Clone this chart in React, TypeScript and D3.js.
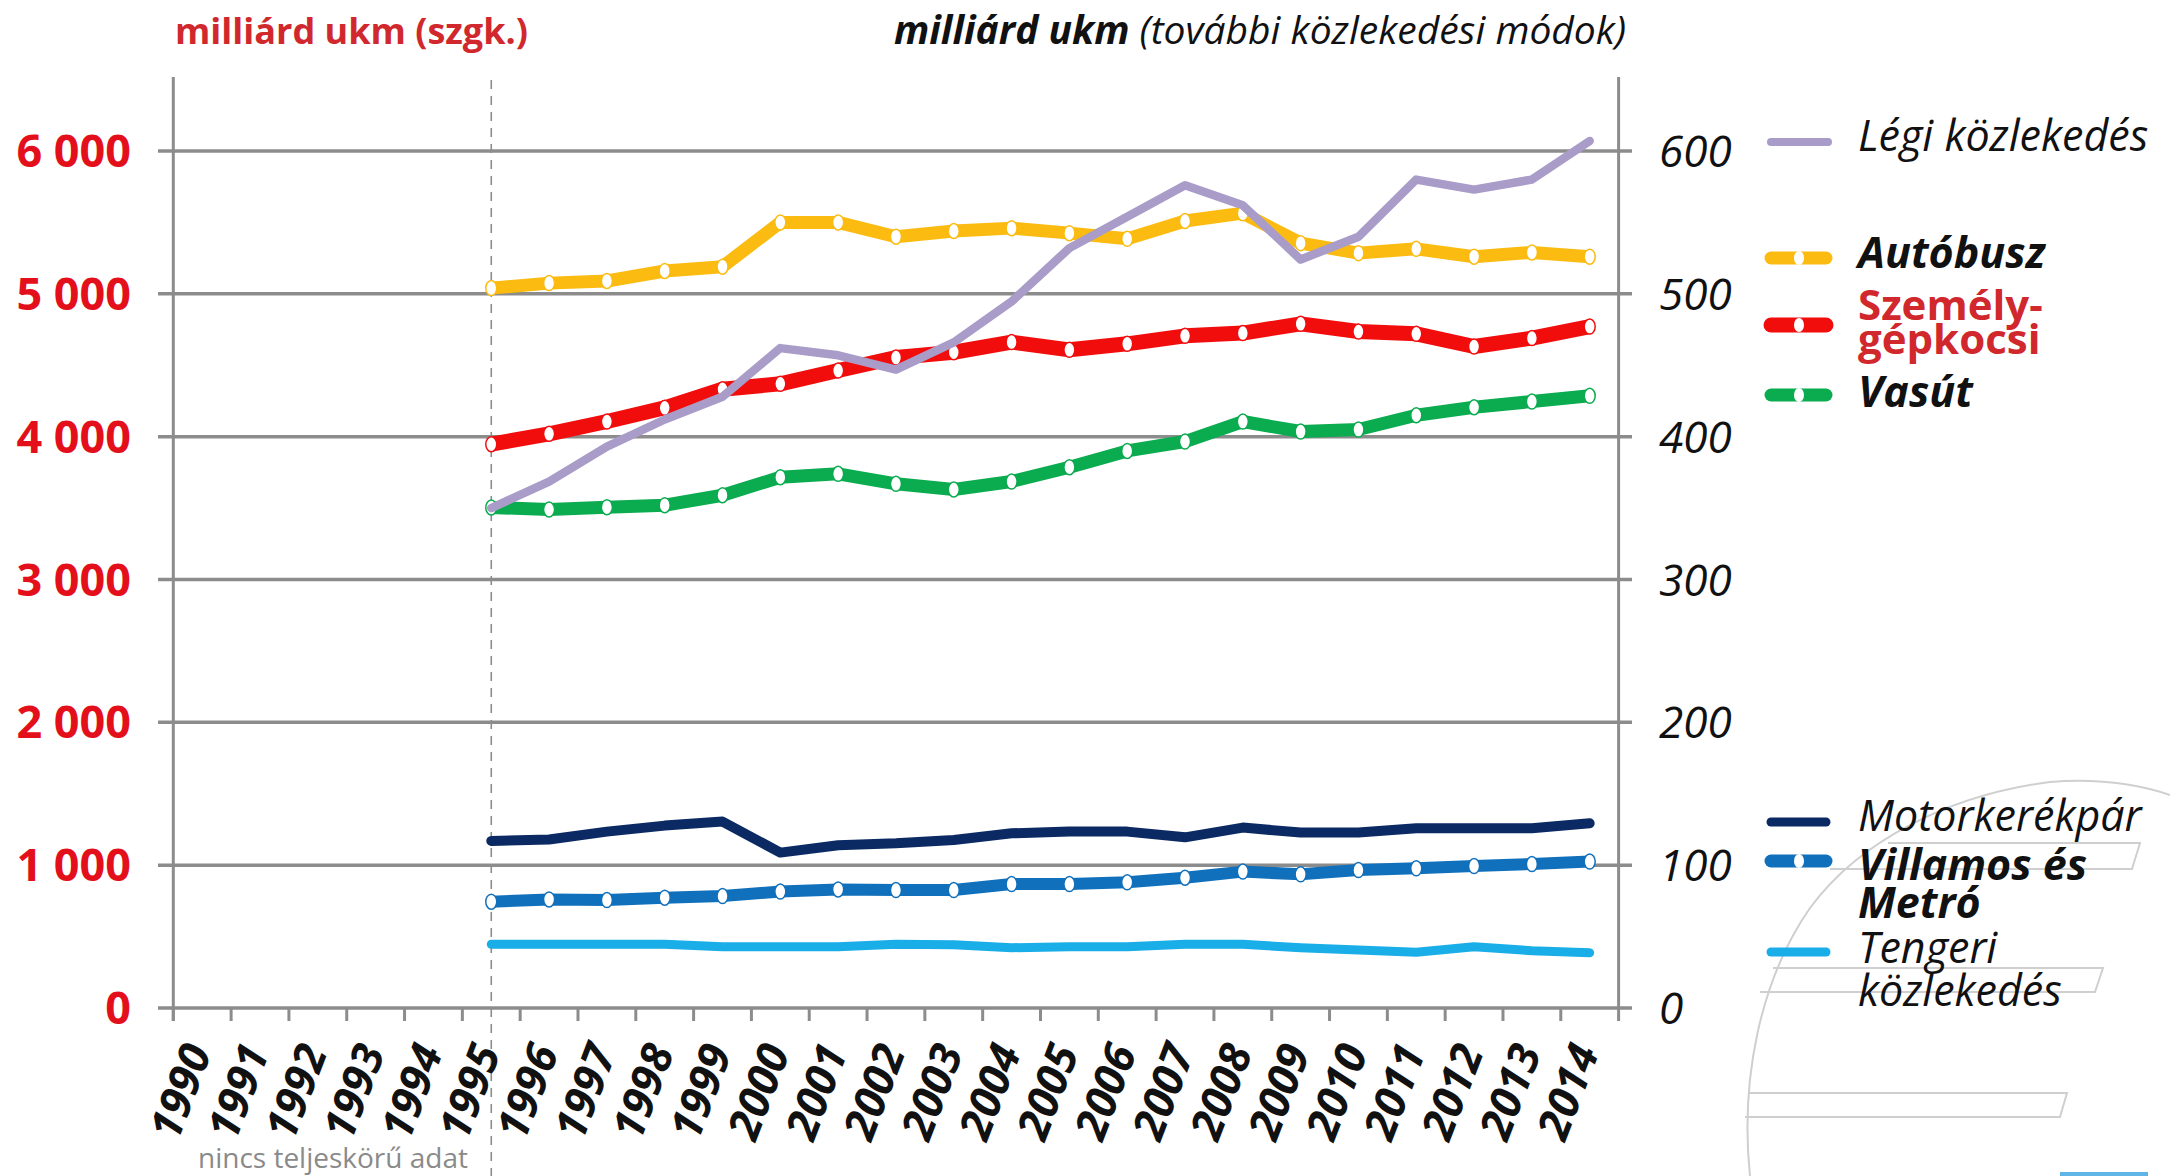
import React from "react";
import * as d3 from "d3";

const years: number[] = d3.range(1990, 2015);
const dataYears: number[] = d3.range(1995, 2015);

// right-axis units (milliárd ukm, további közlekedési módok)
const autobusz = [504, 507.5, 509, 516, 519, 550, 550, 540, 544, 546, 542.5, 538.5, 551, 556.5, 535.5, 528.5, 531.5, 526, 529, 526];
const vasut = [350.4, 349, 350.6, 352, 359, 371.6, 374, 367, 363, 368.6, 378.6, 390, 396.6, 410.6, 403.6, 405, 415, 420.6, 424.6, 428.6];
const legi = [350, 368.6, 393, 412, 428, 462, 457, 447, 466, 494.6, 532, 554, 576, 562, 524, 540, 580, 573, 580, 607];
const motor = [117, 118, 123.5, 127.7, 130.5, 108.8, 114, 115.3, 117.6, 122.3, 123.5, 123.5, 119.5, 126.3, 122.8, 122.8, 125.8, 125.8, 125.8, 129.3];
const villamos = [74.4, 76, 75.6, 77.2, 78.4, 81.5, 83, 82.6, 82.6, 86.8, 86.8, 88, 91.2, 95.5, 93.6, 96.6, 97.8, 99.4, 100.8, 102.5];
const tengeri = [44.6, 44.6, 44.6, 44.6, 42.9, 42.9, 42.9, 44.6, 44.2, 42.2, 42.9, 42.9, 44.6, 44.6, 42.2, 40.6, 39, 42.9, 40.1, 38.7];
// left-axis units (milliárd ukm, szgk.)
const szemely = [3947, 4020, 4106, 4202, 4332, 4370, 4463, 4554, 4591, 4662, 4608, 4650, 4706, 4725, 4790, 4736, 4720, 4631, 4690, 4771];

const leftTicks = [0, 1000, 2000, 3000, 4000, 5000, 6000];
const rightTicks = [0, 100, 200, 300, 400, 500, 600];

const FONT = "'Open Sans', 'DejaVu Sans', sans-serif";

const W = 2170, H = 1176;
const x = d3.scaleBand<number>().domain(years).range([173.3, 1618.6]).padding(0);
const yL = d3.scaleLinear().domain([0, 6000]).range([1008, 151]);
const yR = d3.scaleLinear().domain([0, 600]).range([1008, 151]);
const cx = (yr: number) => (x(yr) as number) + x.bandwidth() / 2;

type Series = { name: string; values: number[]; scale: d3.ScaleLinear<number, number>; color: string; width: number; markers: boolean };

const series: Series[] = [
  { name: "Tengeri", values: tengeri, scale: yR, color: "#1aaee8", width: 9, markers: false },
  { name: "Villamos", values: villamos, scale: yR, color: "#1170bb", width: 12, markers: true },
  { name: "Motor", values: motor, scale: yR, color: "#0b2a63", width: 10, markers: false },
  { name: "Vasút", values: vasut, scale: yR, color: "#0bab4f", width: 13, markers: true },
  { name: "Személy", values: szemely, scale: yL, color: "#f20d0d", width: 15, markers: true },
  { name: "Autóbusz", values: autobusz, scale: yR, color: "#fbbb10", width: 13, markers: true },
  { name: "Légi", values: legi, scale: yR, color: "#a99cc8", width: 8.5, markers: false },
];

export default function App() {
  const gridColor = "#8c8c8c";
  const LF = 43;
  return (
    <svg width={W} height={H} style={{ position: "absolute", left: 0, top: 0, background: "#fff" }} fontFamily={FONT}>
      {/* background euro decoration */}
      <g fill="none" stroke="#cfcfcf" strokeWidth={2}>
        <path d="M1750,1176 C1740,1080 1760,980 1810,908 C1860,840 1950,795 2050,782 C2100,778 2140,785 2170,795" />
        <path d="M1888,843 L2140,843 L2132,869 L1830,869" />
        <path d="M1773,968 L2103,968 L2095,992 L1760,992" />
        <path d="M1748,1093 L2067,1093 L2060,1117 L1745,1117" />
      </g>
      <rect x={2060} y={1172} width={88} height={4} fill="#5fb6e6" />

      {/* gridlines */}
      {leftTicks.map((t) => (
        <line key={"g" + t} x1={158} x2={1632} y1={yL(t)} y2={yL(t)} stroke={gridColor} strokeWidth={3.5} />
      ))}
      {/* axes */}
      <line x1={173.3} x2={173.3} y1={77} y2={1021} stroke={gridColor} strokeWidth={3} />
      <line x1={1618.6} x2={1618.6} y1={77} y2={1021} stroke={gridColor} strokeWidth={3} />
      {years.map((yr) => (
        <line key={"t" + yr} x1={x(yr) as number} x2={x(yr) as number} y1={1008} y2={1021} stroke={gridColor} strokeWidth={3} />
      ))}
      {/* dashed separator */}
      <line x1={cx(1995)} x2={cx(1995)} y1={80} y2={1176} stroke="#8c8c8c" strokeWidth={1.6} strokeDasharray="9,7" />

      {/* left tick labels */}
      {leftTicks.map((t) => (
        <text key={"l" + t} x={131} y={yL(t) + 16} textAnchor="end" fontSize={45} fontWeight={700} fill="#e3101b">
          {t === 0 ? "0" : d3.format(",")(t).replace(",", " ")}
        </text>
      ))}
      {/* right tick labels */}
      {rightTicks.map((t) => (
        <text key={"r" + t} x={1659} y={yR(t) + 16} fontSize={44} fontStyle="italic" fill="#111">
          {t}
        </text>
      ))}
      {/* year labels */}
      {years.map((yr) => (
        <text key={"y" + yr} transform={`translate(${cx(yr) + 10},${1052}) rotate(-69)`} textAnchor="end" fontSize={44} fontWeight={700} fontStyle="italic" fill="#111">
          {yr}
        </text>
      ))}

      {/* titles */}
      <text x={175} y={44} fontSize={36} fontWeight={700} fill="#d0282c">milliárd ukm (szgk.)</text>
      <text x={1626} y={44} textAnchor="end" fontSize={39} fontStyle="italic" fill="#111">
        <tspan fontWeight={700}>milliárd ukm</tspan>
        <tspan> (további közlekedési módok)</tspan>
      </text>
      <text x={468} y={1168} textAnchor="end" fontSize={28} fill="#8a8a8a">nincs teljeskörű adat</text>

      {/* series */}
      {series.map((s) => {
        const line = d3.line<number>().x((_, i) => cx(dataYears[i])).y((v) => s.scale(v));
        return (
          <g key={s.name}>
            <path d={line(s.values) || ""} fill="none" stroke={s.color} strokeWidth={s.width} strokeLinejoin="round" strokeLinecap={s.markers ? "butt" : "round"} />
            {s.markers &&
              s.values.map((v, i) => (
                <ellipse key={i} cx={cx(dataYears[i])} cy={s.scale(v)} rx={5.5} ry={7.5} fill="#fff" stroke={s.color} strokeWidth={1.5} />
              ))}
          </g>
        );
      })}

      {/* legend */}
      <g>
        <line x1={1771} x2={1828} y1={142} y2={142} stroke="#a99cc8" strokeWidth={8} strokeLinecap="round" />
        <text x={1858} y={151} fontSize={LF} fontStyle="italic" fill="#111">Légi közlekedés</text>

        <line x1={1771} x2={1826} y1={258} y2={258} stroke="#fbbb10" strokeWidth={13} strokeLinecap="round" />
        <ellipse cx={1799} cy={258} rx={5} ry={7} fill="#fff" />
        <text x={1858} y={268} fontSize={LF} fontWeight={700} fontStyle="italic" fill="#111">Autóbusz</text>

        <line x1={1771} x2={1826} y1={325} y2={325} stroke="#f20d0d" strokeWidth={15} strokeLinecap="round" />
        <ellipse cx={1799} cy={325} rx={5} ry={7} fill="#fff" />
        <text x={1858} y={320} fontSize={42} fontWeight={700} fill="#d0282c">Személy-</text>
        <text x={1858} y={354} fontSize={42} fontWeight={700} fill="#d0282c">gépkocsi</text>

        <line x1={1771} x2={1826} y1={395} y2={395} stroke="#0bab4f" strokeWidth={13} strokeLinecap="round" />
        <ellipse cx={1799} cy={395} rx={5} ry={7} fill="#fff" />
        <text x={1858} y={407} fontSize={LF} fontWeight={700} fontStyle="italic" fill="#111">Vasút</text>

        <line x1={1771} x2={1826} y1={822} y2={822} stroke="#0b2a63" strokeWidth={9} strokeLinecap="round" />
        <text x={1858} y={831} fontSize={LF} fontStyle="italic" fill="#111">Motorkerékpár</text>

        <line x1={1771} x2={1826} y1={861} y2={861} stroke="#1170bb" strokeWidth={13} strokeLinecap="round" />
        <ellipse cx={1799} cy={861} rx={5} ry={7} fill="#fff" />
        <text x={1858} y={880} fontSize={LF} fontWeight={700} fontStyle="italic" fill="#111">Villamos és</text>
        <text x={1858} y={918} fontSize={LF} fontWeight={700} fontStyle="italic" fill="#111">Metró</text>

        <line x1={1771} x2={1826} y1={952} y2={952} stroke="#1aaee8" strokeWidth={9} strokeLinecap="round" />
        <text x={1858} y={963} fontSize={LF} fontStyle="italic" fill="#111">Tengeri</text>
        <text x={1858} y={1006} fontSize={LF} fontStyle="italic" fill="#111">közlekedés</text>
      </g>
    </svg>
  );
}
